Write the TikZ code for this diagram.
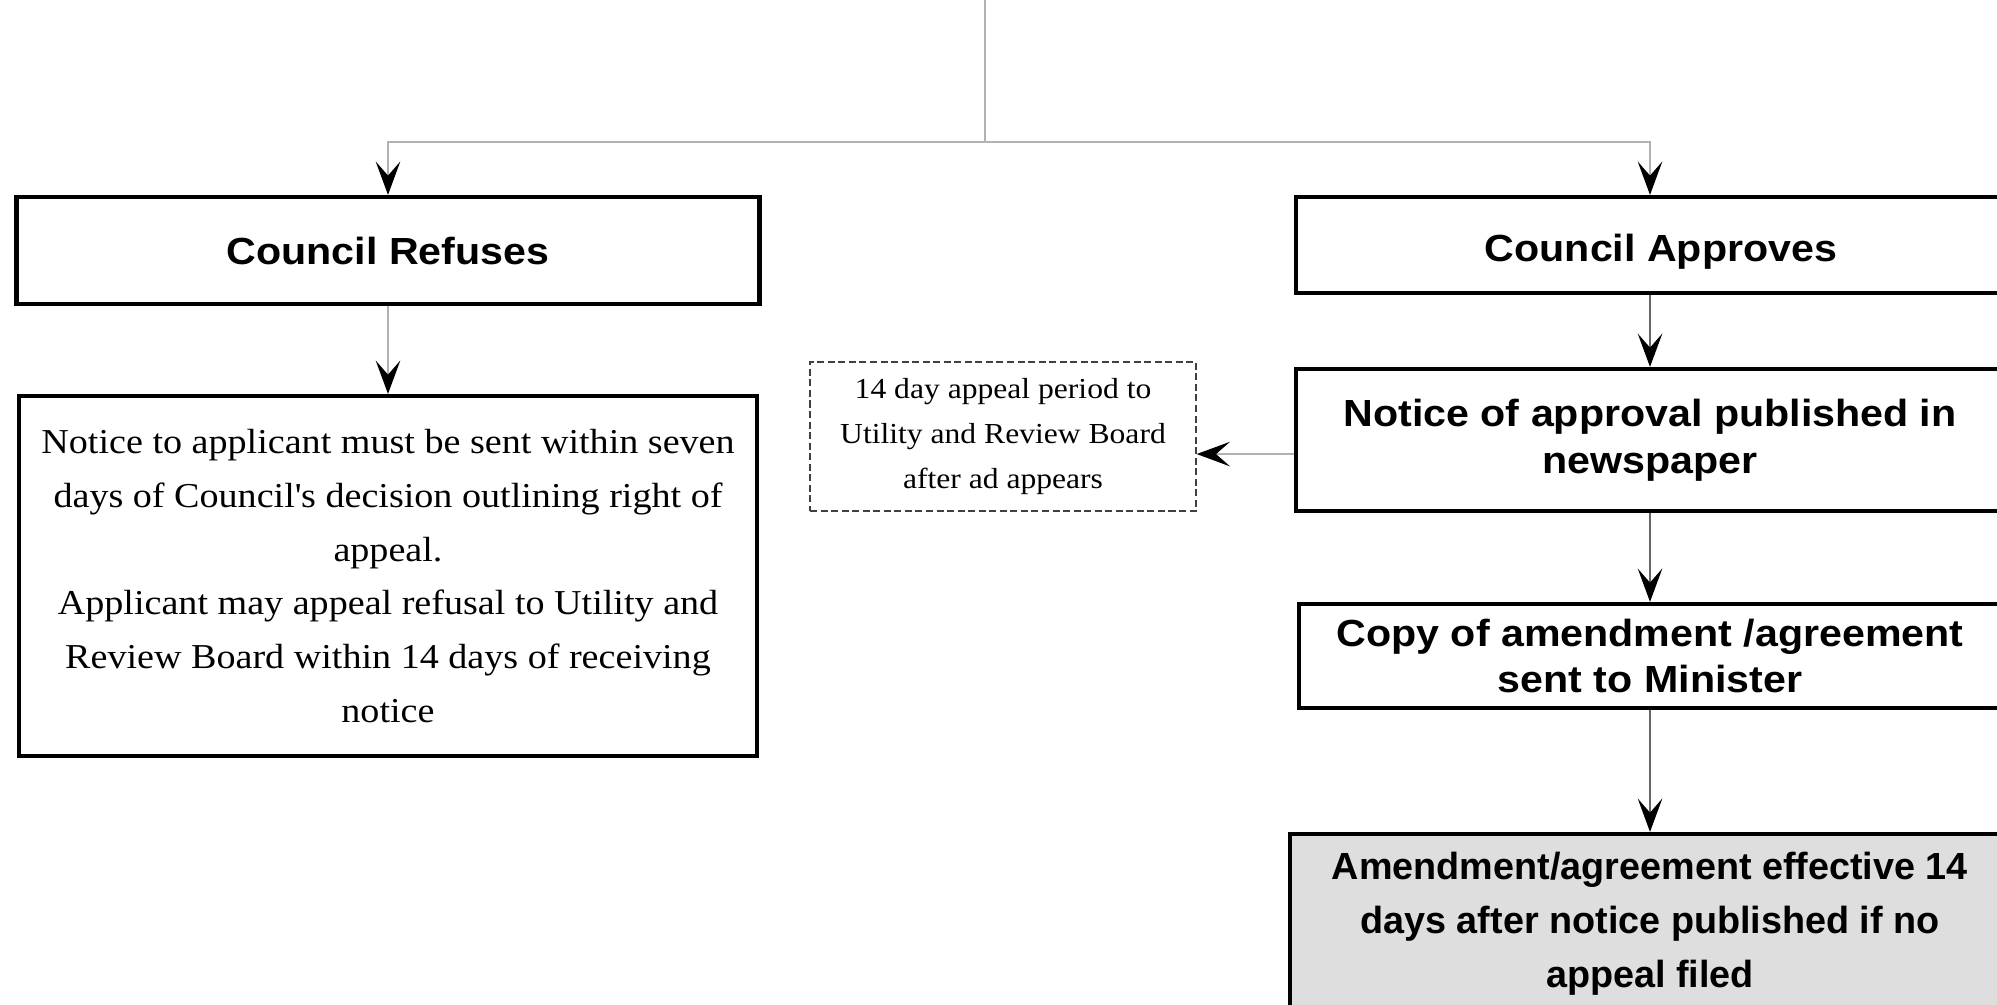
\documentclass[tikz,border=0pt]{standalone}
\usepackage{fontspec}
\setmainfont{Liberation Serif}[FakeStretch=1.09]
\newfontfamily\headfont{Liberation Sans}[FakeStretch=1.09]
\newfontfamily\boxfont{Liberation Sans}
\usetikzlibrary{arrows.meta}

\begin{document}
\begin{tikzpicture}[x=0.02cm,y=-0.02cm,
  >={Stealth[length=19pt,width=14pt,inset=8pt,color=black]},
  main node/.style={draw,line width=2.4pt,inner sep=0pt,align=center,
    font=\headfont\bfseries\fontsize{21.5}{26.7}\selectfont},
  text node/.style={main node,font=\fontsize{19.9}{30.7}\selectfont},
  note node/.style={draw=black!75,dash pattern=on 4pt off 2pt,line width=0.8pt,
    inner sep=0pt,align=center,font=\fontsize{16.5}{25.6}\selectfont},
  tree/.style={draw=black!30,line width=0.8pt},
  flow/.style={->,draw=black!60,line width=0.8pt}]
\useasboundingbox (0,0) rectangle (1997,1004);
\clip (0,0) rectangle (1997,1004);

\node[main node,minimum width=14.86cm,minimum height=2.14cm] (ref) at (388,250.5) {Council Refuses};
\node[text node,minimum width=14.76cm,minimum height=7.2cm] (refnote) at (388,576)
  {Notice to applicant must be sent within seven\\days of Council\textquotesingle s decision outlining right of\\appeal.\\Applicant may appeal refusal to Utility and\\Review Board within 14 days of receiving\\notice};
\node[note node,minimum width=7.72cm,minimum height=2.98cm] (appeal) at (1003,436.5)
  {14 day appeal period to\\Utility and Review Board\\after ad appears};
\node[main node,minimum width=14.6cm,minimum height=1.92cm,text height=18.5pt,text depth=0pt] (apr) at (1661,245) {Council Approves};
\node[main node,minimum width=14.16cm,minimum height=2.84cm] (pub) at (1650,440)
  {Notice of approval published in\\newspaper};
\node[main node,minimum width=14.04cm,minimum height=2.08cm] (copy) at (1650,656)
  {Copy of amendment /agreement\\sent to Minister};
\node[main node,fill=black!13,minimum width=14.4cm,minimum height=3.6cm,
  font=\boxfont\bfseries\fontsize{21.5}{30.7}\selectfont] (eff) at (1650,924)
  {Amendment/agreement effective 14\\days after notice published if no\\appeal filed};

\coordinate (top) at (985,0);
\coordinate (split) at (985,142);
\draw[tree] (top) -- (split);
\draw[tree,->] (split) -| (ref);
\draw[tree,->] (split) -| (pub.north |- apr.north);
\draw[tree,->] (ref) -- (refnote);
\draw[flow] (pub.north |- apr.south) -- (pub);
\draw[flow] (pub) -- (copy);
\draw[flow] (copy) -- (eff);
\draw[tree,->] ([yshift=-8pt]pub.west) -- ([yshift=-8pt]pub.west -| appeal.east);
\end{tikzpicture}
\end{document}
